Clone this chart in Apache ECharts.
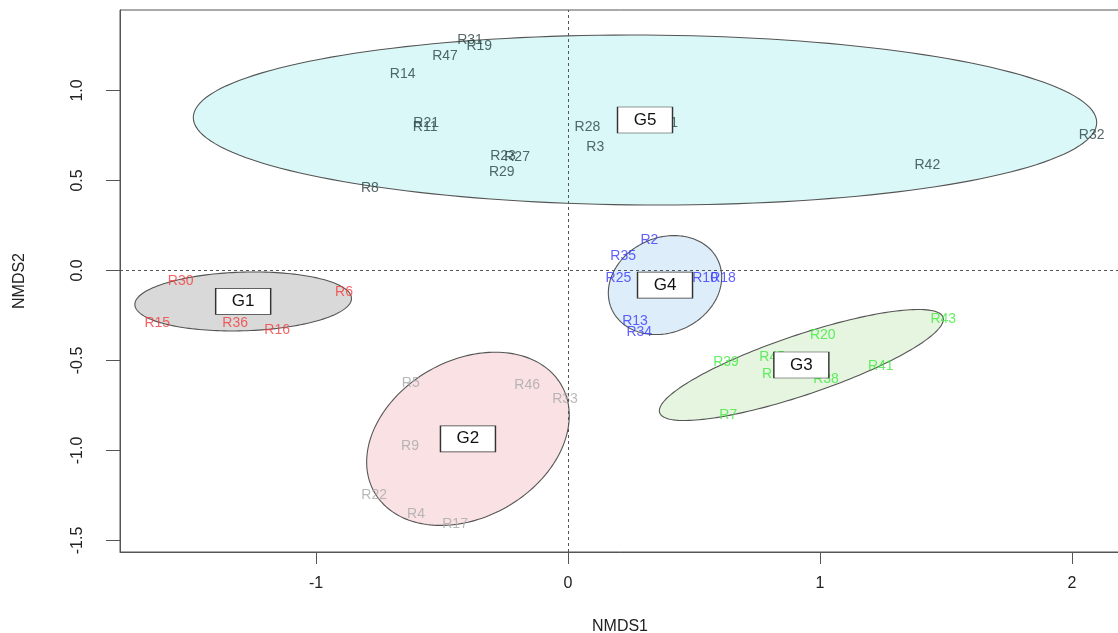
<!DOCTYPE html>
<html>
<head>
<meta charset="utf-8">
<script src="https://cdn.jsdelivr.net/npm/echarts@6/dist/echarts.min.js"></script>
<style>
html,body{margin:0;padding:0;background:#fff;}
#chart{width:1118px;height:633px;}
</style>
</head>
<body>
<div id="chart"></div>
<script>
// ---- data ----
const xTicks = [-1, 0, 1, 2];
const yTicks = [-1.5, -1.0, -0.5, 0.0, 0.5, 1.0];

const groupNames = ['G1', 'G2', 'G3', 'G4', 'G5'];
// ellipse centres and covariance-type spreads (data units)
const ellCx  = [-1.289, -0.397, 0.926, 0.385, 0.3056];
const ellCy  = [-0.172, -0.935, -0.525, -0.081, 0.836];
const ellSxx = [0.1847, 0.1616, 0.3175, 0.0506, 3.213];
const ellSyy = [0.02686, 0.2315, 0.0951, 0.0756, 0.2230];
const ellSxy = [0.00717, 0.0520, 0.1431, 0.0099, -0.0249];

// sample site scores
const g1Names = ['R30', 'R6', 'R15', 'R36', 'R16'];
const g1X = [-1.537, -0.889, -1.630, -1.321, -1.154];
const g1Y = [-0.058, -0.118, -0.293, -0.290, -0.334];

const g2Names = ['R5', 'R46', 'R33', 'R9', 'R22', 'R4', 'R17'];
const g2X = [-0.624, -0.162, -0.012, -0.627, -0.769, -0.603, -0.448];
const g2Y = [-0.627, -0.636, -0.716, -0.975, -1.247, -1.353, -1.410];

const g3Names = ['R43', 'R20', 'R39', 'R45', 'R37', 'R41', 'R38', 'R7'];
const g3X = [1.489, 1.011, 0.627, 0.810, 0.821, 1.241, 1.024, 0.636];
const g3Y = [-0.271, -0.358, -0.507, -0.484, -0.575, -0.531, -0.604, -0.803];

const g4Names = ['R2', 'R35', 'R25', 'R10', 'R18', 'R13', 'R34'];
const g4X = [0.323, 0.219, 0.200, 0.544, 0.615, 0.266, 0.283];
const g4Y = [0.166, 0.081, -0.043, -0.043, -0.043, -0.284, -0.340];

const g5Names = ['R31', 'R19', 'R47', 'R14', 'R21', 'R11', 'R28', 'R3', 'R23', 'R27', 'R29', 'R8', 'R42', 'R32', 'R1'];
const g5X = [-0.389, -0.352, -0.488, -0.656, -0.563, -0.567, 0.077, 0.108, -0.258, -0.202, -0.263, -0.786, 1.426, 2.078, 0.401];
const g5Y = [1.277, 1.249, 1.192, 1.092, 0.818, 0.799, 0.796, 0.688, 0.636, 0.632, 0.546, 0.457, 0.586, 0.753, 0.819];

// ---- styles ----
const fillColors = ['#D9D9D9', '#F9E1E4', '#E5F5DF', '#DDEDF9', '#DAF8F8'];
const textColors = ['#F43C3C', '#A8A8A8', '#3DEB3D', '#3838FF', '#2A4242'];
const FONT = '"Liberation Sans", Arial, sans-serif';

const groups = [
  [g1Names, g1X, g1Y],
  [g2Names, g2X, g2Y],
  [g3Names, g3X, g3Y],
  [g4Names, g4X, g4Y],
  [g5Names, g5X, g5Y]
];

const ellipseData = groupNames.map((g, i) => [ellCx[i], ellCy[i], i]);

const series = [];

series.push({
  type: 'custom',
  name: 'ellipses',
  z: 1,
  silent: true,
  clip: true,
  data: ellipseData,
  encode: { x: 0, y: 1 },
  renderItem: function (params, api) {
    const i = params.dataIndex;
    const a = Math.sqrt(ellSxx[i]);
    const ux = a, uy = ellSxy[i] / a;
    const vy = Math.sqrt(ellSyy[i] - ellSxy[i] * ellSxy[i] / ellSxx[i]);
    const pts = [];
    const n = 180;
    for (let k = 0; k < n; k++) {
      const t = 2 * Math.PI * k / n;
      const x = ellCx[i] + ux * Math.cos(t);
      const y = ellCy[i] + uy * Math.cos(t) + vy * Math.sin(t);
      pts.push(api.coord([x, y]));
    }
    return {
      type: 'polygon',
      shape: { points: pts },
      style: { fill: fillColors[i], stroke: '#555', lineWidth: 1.1 }
    };
  }
});

// dashed reference lines
series.push({
  type: 'scatter',
  name: 'ref',
  z: 2,
  data: [],
  silent: true,
  markLine: {
    silent: true,
    symbol: ['none', 'none'],
    label: { show: false },
    lineStyle: { type: [3, 3], color: '#555', width: 1 },
    data: [{ xAxis: 0 }, { yAxis: 0 }]
  }
});

groups.forEach((grp, gi) => {
  const [names, xs, ys] = grp;
  series.push({
    type: 'scatter',
    name: groupNames[gi],
    z: 3,
    symbolSize: 0,
    silent: true,
    data: names.map((nm, k) => ({ name: nm, value: [xs[k], ys[k]] })),
    label: {
      show: true,
      position: 'inside',
      formatter: '{b}',
      color: textColors[gi],
      fontFamily: FONT,
      fontSize: 14
    },
    labelLayout: { hideOverlap: false }
  });
});

// group label boxes
series.push({
  type: 'scatter',
  name: 'boxes',
  z: 4,
  silent: true,
  symbol: 'rect',
  symbolSize: [55, 26],
  itemStyle: { color: '#fff', borderColor: '#333', borderWidth: 1, opacity: 1 },
  data: groupNames.map((g, i) => ({ name: g, value: [ellCx[i], ellCy[i]] })),
  label: {
    show: true,
    position: 'inside',
    formatter: '{b}',
    color: '#111',
    fontFamily: FONT,
    fontSize: 17
  }
});

const chart = echarts.init(document.getElementById('chart'), null, { renderer: 'canvas' });
chart.setOption({
  animation: false,
  backgroundColor: '#fff',
  grid: {
    left: 120, right: -2, top: 10, bottom: 81,
    outerBoundsMode: 'none',
    containLabel: false,
    show: true, borderColor: '#555', borderWidth: 1, backgroundColor: 'transparent'
  },
  xAxis: {
    type: 'value',
    min: (120 - 568) / 252,
    max: (1120 - 568) / 252,
    name: 'NMDS1',
    nameLocation: 'middle',
    nameGap: 67,
    nameTextStyle: { fontFamily: FONT, fontSize: 16, color: '#222' },
    axisLine: { show: true, onZero: false, lineStyle: { color: '#555' } },
    axisTick: { show: true, inside: false, length: 12, lineStyle: { color: '#555' }, customValues: xTicks },
    axisLabel: { show: true, margin: 24, fontFamily: FONT, fontSize: 16, color: '#222', customValues: xTicks,
      formatter: v => String(v) },
    splitLine: { show: false }
  },
  yAxis: {
    type: 'value',
    min: (270.5 - 552) / 180,
    max: (270.5 - 10) / 180,
    name: 'NMDS2',
    nameLocation: 'middle',
    nameRotate: 90,
    nameGap: 92,
    nameTextStyle: { fontFamily: FONT, fontSize: 16, color: '#222' },
    axisLine: { show: true, onZero: false, lineStyle: { color: '#555' } },
    axisTick: { show: true, inside: false, length: 14, lineStyle: { color: '#555' }, customValues: yTicks },
    axisLabel: { show: true, rotate: 90, margin: 34, fontFamily: FONT, fontSize: 16, color: '#222', customValues: yTicks,
      formatter: v => v.toFixed(1) },
    splitLine: { show: false }
  },
  series: series
});
</script>
</body>
</html>
